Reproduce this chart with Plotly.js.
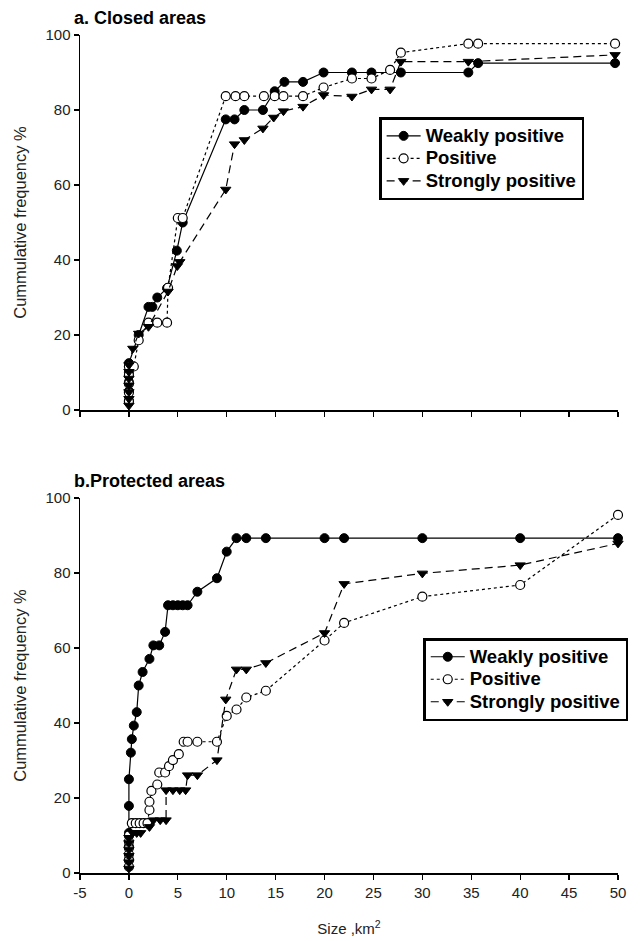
<!DOCTYPE html>
<html>
<head>
<meta charset="utf-8">
<script src="https://cdn.plot.ly/plotly-3.0.1.min.js"></script>
<style>html,body{margin:0;padding:0;background:#fff;}#chart{width:640px;height:941px;}</style>
</head>
<body>
<div id="chart"></div>
<script>
const seriesNames = ["Weakly positive", "Positive", "Strongly positive"];
const panelTitles = ["a. Closed areas", "b.Protected areas"];
const yTitle = "Cummulative frequency %";
const xTitle = "Size ,km<sup>2</sup>";
const xTickVals = [-5, 0, 5, 10, 15, 20, 25, 30, 35, 40, 45, 50];
const xTickLabels = ["-5", "0", "5", "10", "15", "20", "25", "30", "35", "40", "45", "50"];
const yTickVals = [0, 20, 40, 60, 80, 100];

// ---- Panel a: Closed areas ----
const closedWeakX = [0,0,0,0,0,1,2,2.4,2.9,3.9,4.9,5.5,9.9,10.8,11.8,13.7,14.9,15.9,17.8,19.9,22.8,24.8,27.8,34.7,35.7,49.7];
const closedWeakY = [2.5,5,7.5,10,12.5,20,27.5,27.5,30,32.5,42.5,50,77.5,77.5,80,80,85,87.5,87.5,90,90,90,90,90,92.5,92.5];

const closedPosX = [0,0,0,0,0,0.5,1,2,2.9,3.9,4,5,5.5,9.9,10.9,11.8,13.8,14.9,15.8,17.8,19.9,22.8,24.8,26.7,27.8,34.7,35.7,49.7];
const closedPosY = [2.3,4.7,7,9.3,11.6,11.6,18.6,23.3,23.3,23.3,32.6,51.2,51.2,83.7,83.7,83.7,83.7,83.7,83.7,83.7,86,88.4,88.4,90.7,95.3,97.7,97.7,97.7];

const closedStrX = [0,0,0,0,0,0,0,0.4,1,2,4,4.95,5.2,9.9,10.8,11.8,13.7,14.8,15.8,17.8,19.9,22.8,24.8,26.7,27.8,34.7,49.7];
const closedStrY = [1.2,3,4.8,6.6,8.4,10.2,12,16.4,20.4,22.2,31.6,38.4,39.5,58.8,70.9,72,75.1,78,79.7,80.9,84,83.6,85.5,85.5,92.9,92.9,94.7];

// ---- Panel b: Protected areas ----
const protWeakX = [0,0,0,0,0,0.2,0.3,0.5,0.8,1,1.4,2.1,2.5,3.1,3.7,4,4.5,5,5.5,6,7,9,10,11,12,14,20,22,30,40,50];
const protWeakY = [3.6,7.1,10.7,17.9,25,32.1,35.7,39.3,42.9,50,53.6,57.1,60.7,60.7,64.3,71.4,71.4,71.4,71.4,71.4,75,78.6,85.7,89.3,89.3,89.3,89.3,89.3,89.3,89.3,89.3];

const protPosX = [0,0,0,0,0,0,0.3,0.7,1.1,1.5,1.9,2.1,2.1,2.3,2.9,3.1,3.7,4.1,4.5,5.1,5.6,6,7,9,10,11,12,14,20,22,30,40,50];
const protPosY = [1.7,3.4,5,6.7,8.4,10,13.3,13.3,13.3,13.3,13.3,16.8,19,21.9,23.6,26.8,26.8,28.5,30.1,31.7,35,35,35,35,41.9,43.6,46.8,48.6,62,66.7,73.7,76.8,95.5];

const protStrX = [0,0,0,0,0,0,0.4,0.8,1.2,2.1,2.5,3.2,3.8,3.8,4.5,5.2,5.8,6,7,9,9.9,11,12,14,20,22,30,40,50];
const protStrY = [1.2,2.9,4.6,6.3,8,9.4,10.7,10.7,10.7,12.3,14.1,14.1,14.1,22.1,22.1,22.1,22.1,26.1,26.1,30.1,46.3,54.3,54.3,56,64,77.1,79.9,82.1,87.9];

const FONT = "Arial, 'Liberation Sans', sans-serif";

function makeTraces(xa, ya, legendId, data) {
  const styles = [
    {line:{color:'#000', width:1.2, dash:'solid'}, marker:{symbol:'circle', size:9, color:'#000', line:{color:'#000', width:1}}},
    {line:{color:'#000', width:1.2, dash:'dot'}, marker:{symbol:'circle', size:9, color:'#fff', line:{color:'#000', width:1.2}}},
    {line:{color:'#000', width:1.2, dash:'8px,5px'}, marker:{symbol:'triangle-down', size:9, color:'#000', line:{color:'#000', width:1}}}
  ];
  return data.map((d, i) => ({
    type:'scatter', mode:'lines+markers', x:d[0], y:d[1],
    name:'<span style="font-size:18.5px">' + seriesNames[i] + '</span>',
    xaxis:xa, yaxis:ya, legend:legendId, cliponaxis:false,
    line:styles[i].line, marker:styles[i].marker
  }));
}

const traces = [].concat(
  makeTraces('x', 'y', 'legend', [[closedWeakX, closedWeakY],[closedPosX, closedPosY],[closedStrX, closedStrY]]),
  makeTraces('x2', 'y2', 'legend2', [[protWeakX, protWeakY],[protPosX, protPosY],[protStrX, protStrY]])
);

const axisCommon = {
  range:[-5, 50], tickvals:xTickVals, ticktext:xTickLabels, ticks:'outside', ticklen:5, tickwidth:1.2, tickcolor:'#000',
  showline:true, linecolor:'#000', linewidth:1.5, showgrid:false, zeroline:false,
  tickfont:{family:FONT, size:15, color:'#222'}
};
const yCommon = {
  range:[0, 100], tickvals:yTickVals, ticks:'outside', ticklen:5, tickwidth:1.2, tickcolor:'#000',
  showline:true, linecolor:'#000', linewidth:1.5, showgrid:false, zeroline:false,
  tickfont:{family:FONT, size:15, color:'#222'},
  title:{text:yTitle, font:{family:FONT, size:16.5, color:'#222'}, standoff:14}
};

const legendCommon = {
  bgcolor:'#fff', bordercolor:'#000', borderwidth:2.5,
  font:{family:FONT, size:15, color:'#000', weight:'bold'},
  xanchor:'left', yanchor:'top', tracegroupgap:0, itemwidth:34
};

const layout = {
  width:640, height:941,
  margin:{l:80, r:20, t:35, b:68},
  paper_bgcolor:'#fff', plot_bgcolor:'#fff',
  showlegend:true,
  xaxis: Object.assign({}, axisCommon, {anchor:'y', showticklabels:false}),
  yaxis: Object.assign({}, yCommon, {domain:[0.5525, 1], anchor:'x'}),
  xaxis2: Object.assign({}, axisCommon, {anchor:'y2', title:{text:xTitle, font:{family:FONT, size:15, color:'#222'}, standoff:24}}),
  yaxis2: Object.assign({}, yCommon, {domain:[0, 0.4475], anchor:'x2'}),
  legend: Object.assign({}, legendCommon, {x:0.556, y:0.902}),
  legend2: Object.assign({}, legendCommon, {x:0.638, y:0.2804}),
  annotations:[
    {text:'<b>'+panelTitles[0]+'</b>', xref:'paper', yref:'paper', x:-0.015, y:1.0203, xanchor:'left', yanchor:'middle', showarrow:false, font:{family:FONT, size:18, color:'#000'}},
    {text:'<b>'+panelTitles[1]+'</b>', xref:'paper', yref:'paper', x:-0.015, y:0.4672, xanchor:'left', yanchor:'middle', showarrow:false, font:{family:FONT, size:18, color:'#000'}}
  ]
};

Plotly.newPlot('chart', traces, layout, {displayModeBar:false, staticPlot:true});
</script>
</body>
</html>
